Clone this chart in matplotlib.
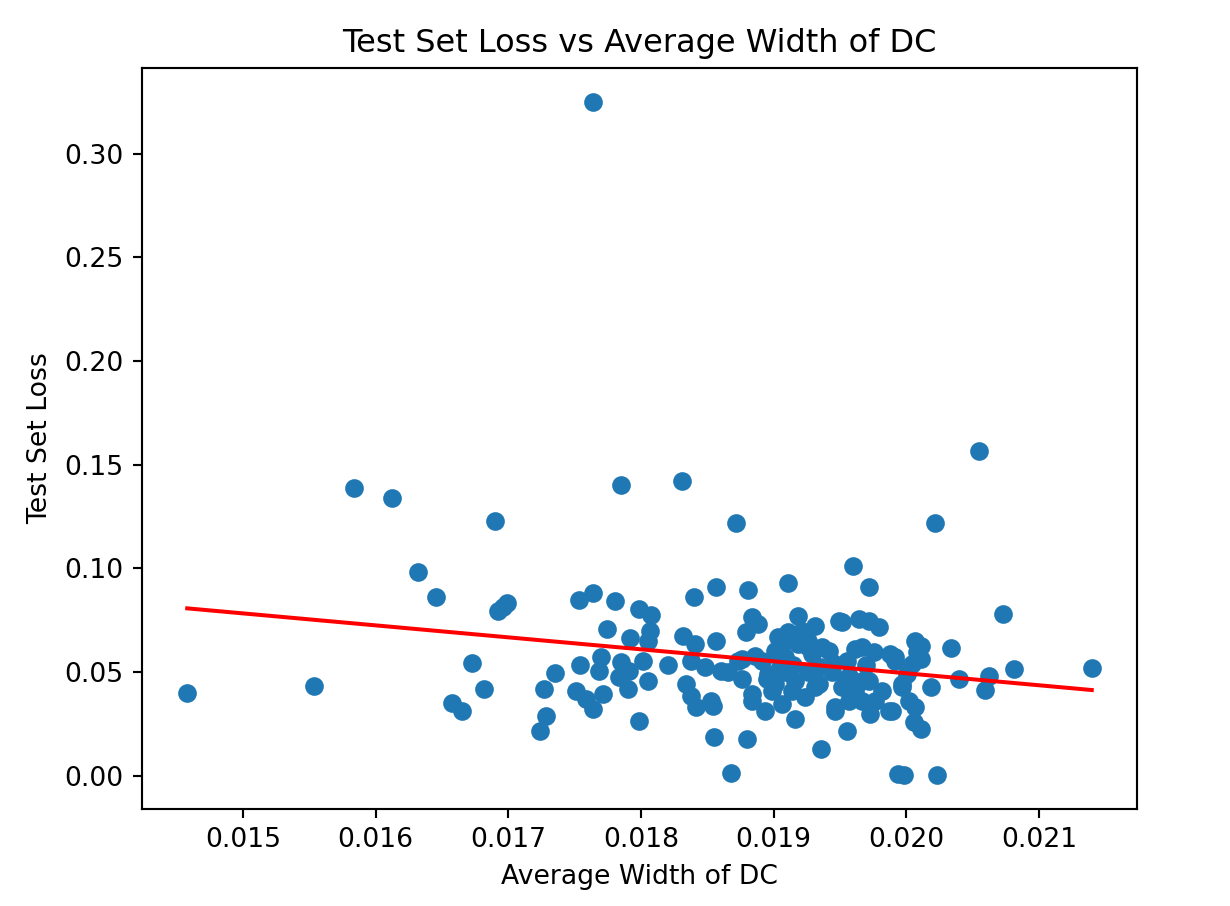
import numpy as np
import matplotlib
matplotlib.use("Agg")
import matplotlib.pyplot as plt

# Average width of DC for each model
avg_width = [
    0.01458, 0.015533, 0.015836, 0.016124, 0.016898, 0.016320, 0.016456, 0.016923,
    0.016958, 0.016994, 0.016729, 0.016820, 0.016578, 0.016653, 0.017639,
    0.017531, 0.017641, 0.017808, 0.017989, 0.018073, 0.018398, 0.018564, 0.017745,
    0.017921, 0.018068, 0.018053, 0.018318, 0.018405, 0.018564, 0.017352, 0.017271,
    0.017543, 0.017700, 0.017687, 0.017851, 0.017914, 0.018015, 0.018204, 0.018381,
    0.018481, 0.018658, 0.017510, 0.017586, 0.017712, 0.017637, 0.017838, 0.017902,
    0.018053, 0.018343, 0.018381, 0.018418, 0.018545, 0.017283, 0.017240, 0.017989,
    0.018552, 0.018683, 0.018797, 0.018809, 0.019112, 0.019596, 0.019717, 0.018834,
    0.018789, 0.018885, 0.019188, 0.019313, 0.019112, 0.019061, 0.019263, 0.019515,
    0.019642, 0.019717, 0.019793, 0.020070, 0.020083, 0.019415, 0.019616, 0.019755,
    0.019881, 0.019011, 0.019188, 0.019364, 0.018759, 0.018859, 0.018759, 0.018961,
    0.019086, 0.019263, 0.019440, 0.019566, 0.019717, 0.019919, 0.020007, 0.020045,
    0.018986, 0.019137, 0.019313, 0.019540, 0.019616, 0.019818, 0.019969, 0.018834,
    0.018935, 0.019061, 0.019238, 0.019465, 0.019730, 0.019894, 0.020070, 0.020058,
    0.020108, 0.019162, 0.019553, 0.019359, 0.019937, 0.019980, 0.020234, 0.019667,
    0.019667, 0.020340, 0.020401, 0.020628, 0.020597, 0.020809, 0.020733, 0.021399,
    0.020184, 0.020108, 0.020108, 0.017851, 0.018312, 0.018716, 0.020550, 0.020217,
    # points hidden in the dense middle cluster
    0.019036, 0.019213, 0.019086, 0.019288, 0.019919, 0.019011, 0.019162, 0.019339,
    0.019515, 0.019667, 0.019969, 0.018734, 0.018910, 0.019465, 0.019566, 0.019767,
    0.019869, 0.020020, 0.018834, 0.018607, 0.018530, 0.019492,
    0.019150, 0.019350, 0.019250, 0.019450, 0.019050, 0.019550, 0.019700, 0.018950,
]

# Test set loss for the same models
test_loss = [
    0.0397, 0.0434, 0.1389, 0.1341, 0.1227, 0.0984, 0.0860, 0.0793,
    0.0812, 0.0831, 0.0542, 0.0416, 0.0349, 0.0310, 0.3251,
    0.0849, 0.0881, 0.0841, 0.0804, 0.0777, 0.0860, 0.0908, 0.0708,
    0.0662, 0.0699, 0.0651, 0.0675, 0.0635, 0.0651, 0.0493, 0.0418,
    0.0534, 0.0571, 0.0507, 0.0547, 0.0507, 0.0555, 0.0534, 0.0555,
    0.0522, 0.0498, 0.0410, 0.0370, 0.0394, 0.0322, 0.0474, 0.0418,
    0.0458, 0.0442, 0.0386, 0.0329, 0.0338, 0.0289, 0.0214, 0.0265,
    0.0185, 0.0014, 0.0177, 0.0897, 0.0928, 0.1013, 0.0908, 0.0764,
    0.0691, 0.0732, 0.0772, 0.0724, 0.0691, 0.0635, 0.0651, 0.0740,
    0.0756, 0.0748, 0.0715, 0.0651, 0.0595, 0.0603, 0.0611, 0.0595,
    0.0587, 0.0603, 0.0635, 0.0619, 0.0563, 0.0579, 0.0468, 0.0491,
    0.0498, 0.0498, 0.0498, 0.0482, 0.0458, 0.0555, 0.0491, 0.0539,
    0.0410, 0.0410, 0.0426, 0.0442, 0.0410, 0.0410, 0.0426, 0.0362,
    0.0314, 0.0346, 0.0378, 0.0314, 0.0298, 0.0314, 0.0329, 0.0257,
    0.0225, 0.0274, 0.0217, 0.0129, 0.0008, 0.0003, 0.0005, 0.0362,
    0.0619, 0.0617, 0.0468, 0.0482, 0.0415, 0.0516, 0.0781, 0.0521,
    0.0426, 0.0627, 0.0564, 0.1402, 0.1420, 0.1217, 0.1568, 0.1217,
    0.0667, 0.0699, 0.0571, 0.0587, 0.0571, 0.0442, 0.0458, 0.0442,
    0.0426, 0.0458, 0.0442, 0.0555, 0.0555, 0.0329, 0.0362, 0.0362,
    0.0314, 0.0362, 0.0394, 0.0507, 0.0362, 0.0748,
    0.0535, 0.0525, 0.0625, 0.0545, 0.0525, 0.0555, 0.0535, 0.0465,
]

# Trend line ends (loss at the smallest and largest width)
trend_loss = [0.0807, 0.0413]

x = np.array(avg_width)
y = np.array(test_loss)
trend_x = [x.min(), x.max()]

fig = plt.figure(figsize=(1230 / 192, 906 / 192), dpi=192)
ax = fig.add_axes([142 / 1230, 1 - 808.7 / 906, 995 / 1230, 740.7 / 906])

ax.scatter(x, y)
ax.plot(trend_x, trend_loss, color="red")

ax.set_title("Test Set Loss vs Average Width of DC")
ax.set_xlabel("Average Width of DC")
ax.set_ylabel("Test Set Loss")

fig.savefig("out.png", dpi=192)
